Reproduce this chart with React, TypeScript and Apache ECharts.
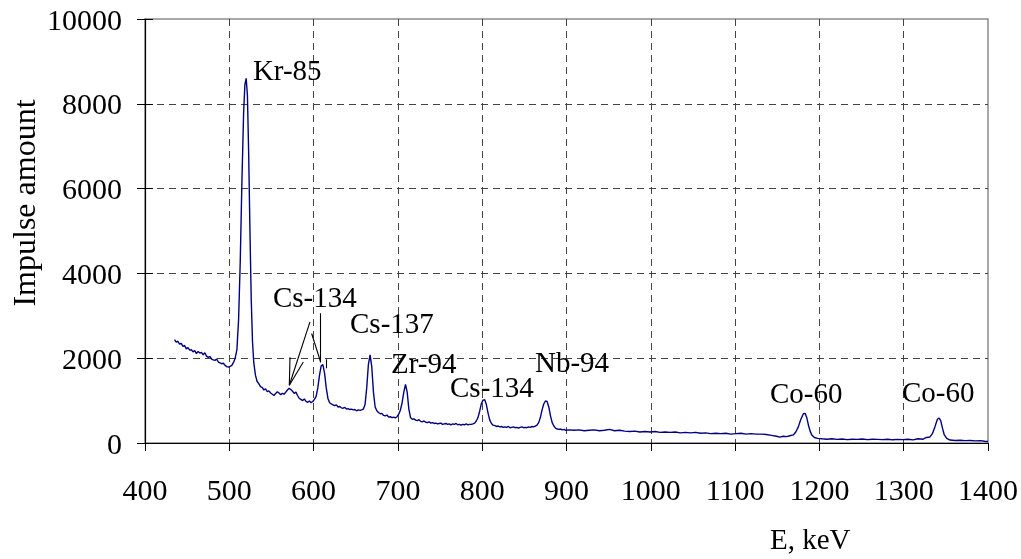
import React, { useEffect, useRef } from "react";
import * as echarts from "echarts";

const energies = [
  435, 437, 439, 441, 443, 445, 447, 449, 451, 453, 455, 457, 459, 461, 463, 465, 467, 469, 471, 473,
  475, 477, 479, 481, 483, 485, 487, 489, 491, 493, 495, 497, 499, 501, 503, 505, 507, 509, 511, 513,
  515, 517, 518.5, 520, 521.5, 523, 524.5, 526, 527.5, 529, 531, 533, 535, 537, 539, 541, 543, 545, 547, 549,
  551, 553, 555, 557, 559, 561, 563, 565, 567, 569, 571, 573, 575, 577, 579, 581, 583, 585, 587, 589,
  591, 593, 595, 597, 599, 601, 603, 605, 607, 609, 611, 613, 615, 617, 619, 621, 623, 625, 627, 629,
  631, 633, 635, 637, 639, 641, 643, 645, 647, 649, 651, 653, 655, 657, 659, 661, 663, 665, 667, 669,
  671, 673, 675, 677, 679, 681, 683, 685, 687, 689, 691, 693, 695, 697, 699, 701, 703, 705, 707, 709,
  711, 713, 715, 717, 719, 721, 723, 725, 727, 729, 731, 733, 735, 737, 739, 741, 743, 745, 747, 749,
  751, 753, 755, 757, 759, 761, 763, 765, 767, 769, 771, 773, 775, 777, 779, 781, 783, 785, 787, 789,
  791, 793, 795, 797, 799, 801, 803, 805, 807, 809, 811, 813, 815, 817, 819, 821, 823, 825, 827, 829,
  831, 833, 835, 837, 839, 841, 843, 845, 847, 849, 851, 853, 855, 857, 859, 861, 863, 865, 867, 869,
  871, 873, 875, 877, 879, 881, 883, 885, 887, 889, 891, 893, 895, 897, 899, 903, 909, 915, 921, 927,
  933, 939, 945, 951, 957, 963, 969, 975, 981, 987, 993, 999, 1005, 1011, 1017, 1023, 1029, 1035, 1041, 1047,
  1053, 1059, 1065, 1071, 1077, 1083, 1089, 1095, 1101, 1107, 1113, 1119, 1125, 1131, 1137, 1143, 1149, 1153, 1157, 1161,
  1165, 1169, 1172, 1175, 1178, 1181, 1183, 1185, 1187, 1189, 1191, 1194, 1198, 1203, 1209, 1215, 1221, 1227, 1233, 1239,
  1245, 1251, 1257, 1263, 1269, 1275, 1281, 1287, 1293, 1299, 1305, 1311, 1317, 1323, 1327, 1331, 1334, 1337, 1340, 1342,
  1344, 1346, 1348, 1351, 1355, 1361, 1367, 1373, 1379, 1385, 1391, 1396, 1400,
];

const counts = [
  2440, 2380, 2400, 2330, 2350, 2280, 2300, 2220, 2250, 2190, 2200, 2150, 2180, 2110, 2160, 2120, 2140, 2080, 2130, 2050,
  2020, 2040, 1980, 1960, 1950, 1980, 1910, 1890, 1870, 1880, 1830, 1800, 1790, 1810, 1830, 1900, 2000, 2200, 2900, 4300,
  6200, 7800, 8450, 8600, 8200, 6800, 5000, 3400, 2400, 1900, 1600, 1450, 1400, 1330, 1310, 1250, 1280, 1210, 1230, 1180,
  1150, 1120, 1170, 1210, 1180, 1140, 1170, 1150, 1200, 1250, 1290, 1260, 1220, 1170, 1200, 1120, 1050, 1030, 1000, 1040,
  980, 960, 990, 950, 980, 1030, 1100, 1300, 1600, 1820, 1850, 1650, 1300, 1050, 950, 920, 900, 880, 900, 850,
  860, 830, 820, 840, 800, 810, 790, 800, 780, 790, 760, 780, 770, 780, 800, 900, 1300, 1850, 2080, 1800,
  1200, 850, 760, 720, 690, 700, 650, 640, 660, 610, 620, 600, 610, 590, 620, 680, 780, 950, 1200, 1380,
  1200, 800, 600, 560, 570, 540, 530, 550, 510, 500, 520, 490, 480, 500, 470, 480, 460, 470, 450, 460,
  470, 440, 450, 460, 440, 450, 430, 450, 440, 460, 430, 440, 420, 440, 430, 450, 430, 440, 440, 450,
  470, 520, 600, 750, 930, 1010, 1020, 900, 700, 540, 460, 420, 410, 390, 400, 380, 390, 370, 380, 370,
  390, 360, 370, 380, 360, 370, 350, 370, 380, 360, 370, 360, 380, 370, 390, 380, 400, 420, 480, 600,
  780, 920, 990, 980, 850, 640, 480, 400, 350, 330, 320, 330, 310, 320, 300, 310, 300, 310, 290, 300,
  310, 290, 300, 320, 290, 300, 280, 270, 280, 260, 270, 260, 270, 250, 260, 250, 260, 240, 250, 240,
  250, 230, 240, 220, 230, 220, 230, 210, 220, 230, 210, 220, 210, 210, 200, 180, 160, 140, 160, 150,
  170, 190, 260, 380, 560, 690, 700, 600, 420, 280, 190, 130, 110, 100, 90, 100, 85, 95, 80, 90,
  85, 95, 80, 90, 85, 80, 90, 75, 85, 80, 90, 75, 100, 90, 130, 140, 220, 380, 560, 590,
  520, 350, 200, 110, 70, 60, 65, 55, 60, 50, 55, 40, 35,
];

const peakLabels = ["Kr-85", "Cs-134", "Cs-137", "Zr-94", "Cs-134", "Nb-94", "Co-60", "Co-60"];
const peakLabelE = [528, 551.8, 643.2, 691.8, 761.8, 862.6, 1141.4, 1298];
const peakLabelV = [8796, 3439, 2825, 1881, 1315, 1904, 1173, 1197];

const arrowFromE = [595.7, 572, 587.8, 597.7, 608.4, 614.7];
const arrowFromV = [2856, 2023, 1912, 2582, 3061, 1975];
const arrowToE = [571.2, 571.2, 571.2, 608.4, 608.4, 614.7];
const arrowToV = [1362, 1362, 1362, 1905, 1905, 1763];

const FONT = '"Liberation Serif", "Times New Roman", serif';

export default function App() {
  const ref = useRef<HTMLDivElement>(null);
  useEffect(() => {
    const chart = echarts.init(ref.current!, null, { renderer: "svg" });
    const lineData = energies.map((e, i) => [e, counts[i]]);
    const arrowData = arrowFromE.map((e, i) => ({
      coords: [
        [e, arrowFromV[i]],
        [arrowToE[i], arrowToV[i]],
      ],
    }));
    const axisLabelStyle = {
      fontFamily: FONT,
      fontSize: 30,
      color: "#000",
      formatter: (v: number) => String(v),
    };
    chart.setOption({
      animation: false,
      grid: {
        left: 145,
        right: 33,
        top: 19,
        bottom: 116,
        containLabel: false,
        outerBoundsMode: "none",
        show: true,
        borderColor: "#8a8a8a",
        borderWidth: 1.5,
        backgroundColor: "transparent",
      },
      xAxis: [
        {
          type: "value",
          min: 400,
          max: 1400,
          interval: 100,
          axisLine: { show: true, lineStyle: { color: "#000", width: 1.2 } },
          axisTick: { show: true, inside: false, length: 8, lineStyle: { color: "#000" } },
          axisLabel: { ...axisLabelStyle, margin: 31, hideOverlap: false },
          splitLine: {
            show: true,
            showMinLine: false,
            showMaxLine: false,
            lineStyle: { color: "#444", type: [7, 5], width: 1 },
          },
        },
      ],
      yAxis: [
        {
          type: "value",
          min: 0,
          max: 10000,
          interval: 2000,
          position: "left",
          axisLine: { show: true, lineStyle: { color: "#000", width: 1.2 } },
          axisTick: { show: true, inside: false, length: 8, lineStyle: { color: "#000" } },
          axisLabel: { ...axisLabelStyle, margin: 23 },
          splitLine: {
            show: true,
            showMinLine: false,
            showMaxLine: false,
            lineStyle: { color: "#444", type: [7, 5], width: 1 },
          },
        },
        {
          type: "value",
          min: 0,
          max: 10000,
          interval: 2000,
          position: "left",
          offset: 0,
          axisLine: { show: false },
          axisTick: { show: true, inside: true, length: 8, lineStyle: { color: "#000" } },
          axisLabel: { show: false },
          splitLine: { show: false },
        },
      ],
      series: [
        {
          type: "line",
          data: lineData,
          showSymbol: false,
          symbol: "none",
          lineStyle: { color: "#000080", width: 1.4 },
          z: 3,
        },
        {
          type: "lines",
          coordinateSystem: "cartesian2d",
          data: arrowData,
          lineStyle: { color: "#000", width: 1.1, opacity: 1 },
          z: 4,
        },
      ],
    });
    const texts = peakLabels.map((t, i) => {
      const p = chart.convertToPixel({ seriesIndex: 0 }, [peakLabelE[i], peakLabelV[i]]) as number[];
      return {
        type: "text",
        x: p[0],
        y: p[1],
        z: 10,
        style: {
          text: t,
          fontFamily: FONT,
          fontSize: 29,
          fill: "#000",
          align: "left",
          verticalAlign: "middle",
        },
      };
    });
    chart.setOption({
      graphic: [
        ...texts,
        {
          type: "text",
          x: 24,
          y: 203,
          rotation: Math.PI / 2,
          style: {
            text: "Impulse amount",
            fontFamily: FONT,
            fontSize: 32,
            fill: "#000",
            align: "center",
            verticalAlign: "middle",
          },
        },
        {
          type: "text",
          left: 770,
          top: 524,
          style: { text: "E, keV", fontFamily: FONT, fontSize: 29, fill: "#000" },
        },
      ],
    });
    return () => chart.dispose();
  }, []);
  return (
    <div
      ref={ref}
      style={{ position: "fixed", left: 0, top: 0, width: 1021, height: 559 }}
    />
  );
}
